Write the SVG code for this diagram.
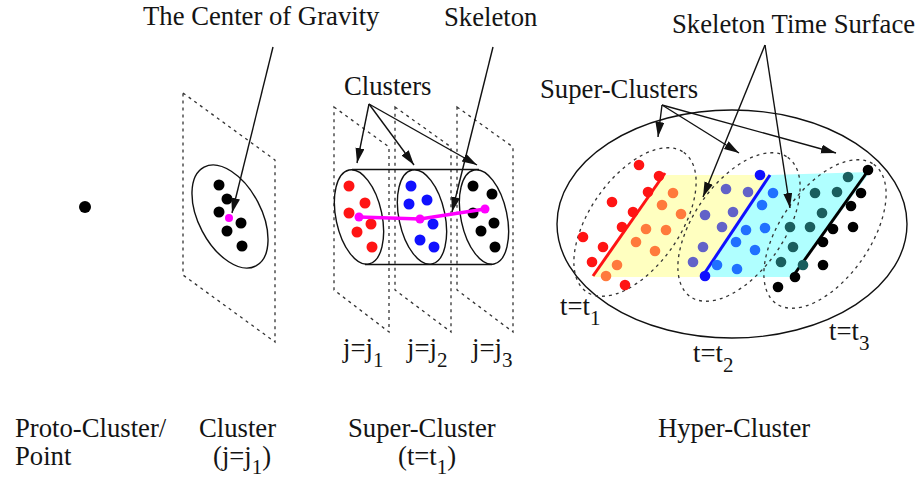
<svg xmlns="http://www.w3.org/2000/svg" width="921" height="479" viewBox="0 0 921 479">
<defs>
<style>
text{font-family:"Liberation Serif","Times New Roman",serif;font-size:26.7px;fill:#141414}
.sub{font-size:21px}
.dash{fill:none;stroke:#333;stroke-width:1.3;stroke-dasharray:3 4}
.ln{fill:none;stroke:#111;stroke-width:1.4}
.arr{fill:none;stroke:#111;stroke-width:1.4;marker-end:url(#ah)}
.k{fill:#000}.r{fill:#ff1414}.b{fill:#1010ff}.o{fill:#ff7a3c}.p{fill:#6262c8}.bb{fill:#2070ff}.t{fill:#1a5e5e}.m{fill:#ff00ff}
</style>
<marker id="ah" markerUnits="userSpaceOnUse" markerWidth="16" markerHeight="10" refX="15" refY="4.5" orient="auto">
<path d="M0,0 L15,4.5 L0,9 z" fill="#111"/>
</marker>
</defs>
<rect width="921" height="479" fill="#fff"/>

<g id="proto-cluster">
<circle cx="85" cy="207" r="6" class="k"/>
<text x="15" y="437">Proto-Cluster/</text>
<text x="15" y="465">Point</text>
</g>

<g id="cluster">
<path class="dash" d="M183,93 L275,160 L275,342 L183,275 Z"/>
<ellipse cx="230" cy="216.5" rx="31.4" ry="55.8" transform="rotate(-27.7 230 216.5)" class="ln"/>
<circle cx="219" cy="185" r="5.5" class="k"/>
<circle cx="227" cy="199" r="5.5" class="k"/>
<circle cx="219" cy="212" r="5.5" class="k"/>
<circle cx="241" cy="223" r="5.5" class="k"/>
<circle cx="227" cy="231" r="5.5" class="k"/>
<circle cx="242" cy="246" r="5.5" class="k"/>
<circle cx="229" cy="218" r="4" class="m"/>
<text x="199" y="437">Cluster</text>
<text x="213" y="465">(j=j<tspan class="sub" dy="9">1</tspan><tspan dy="-9">)</tspan></text>
</g>

<g id="super-cluster">
<path class="dash" d="M334,107 L389,147 L389,332 L334,290 Z"/>
<path class="dash" d="M395,107 L451,147 L451,332 L395,290 Z"/>
<path class="dash" d="M457,107 L513,147 L513,332 L457,290 Z"/>
<ellipse cx="359" cy="217" rx="23" ry="48" transform="rotate(-12 359 217)" class="ln"/>
<ellipse cx="422" cy="217" rx="23" ry="48" transform="rotate(-12 422 217)" class="ln"/>
<ellipse cx="484" cy="217" rx="23" ry="48" transform="rotate(-12 484 217)" class="ln"/>
<line x1="352" y1="169.5" x2="479" y2="169.5" class="ln"/>
<line x1="365" y1="264.5" x2="492" y2="264.5" class="ln"/>
<circle cx="349" cy="186" r="5.5" class="r"/>
<circle cx="365" cy="203" r="5.5" class="r"/>
<circle cx="349" cy="213" r="5.5" class="r"/>
<circle cx="371" cy="224" r="5.5" class="r"/>
<circle cx="357" cy="232" r="5.5" class="r"/>
<circle cx="372" cy="247" r="5.5" class="r"/>
<circle cx="411" cy="186" r="5.5" class="b"/>
<circle cx="427" cy="200" r="5.5" class="b"/>
<circle cx="409" cy="204" r="5.5" class="b"/>
<circle cx="433" cy="224" r="5.5" class="b"/>
<circle cx="420" cy="240" r="5.5" class="b"/>
<circle cx="434" cy="247" r="5.5" class="b"/>
<circle cx="473" cy="186" r="5.5" class="k"/>
<circle cx="492" cy="194" r="5.5" class="k"/>
<circle cx="473" cy="213" r="5.5" class="k"/>
<circle cx="494" cy="223" r="5.5" class="k"/>
<circle cx="481" cy="231" r="5.5" class="k"/>
<circle cx="495" cy="247" r="5.5" class="k"/>
<polyline points="359,217 420,219 485,209" fill="none" stroke="#ff00ff" stroke-width="3.5"/>
<circle cx="359" cy="217" r="4.5" class="m"/>
<circle cx="420" cy="219" r="4.5" class="m"/>
<circle cx="485" cy="209" r="4.5" class="m"/>
<text x="343" y="357">j=j<tspan class="sub" dy="10">1</tspan></text>
<text x="407" y="357">j=j<tspan class="sub" dy="10">2</tspan></text>
<text x="472" y="357">j=j<tspan class="sub" dy="10">3</tspan></text>
<text x="348" y="437">Super-Cluster</text>
<text x="398" y="465">(t=t<tspan class="sub" dy="9">1</tspan><tspan dy="-9">)</tspan></text>
</g>

<g id="hyper-cluster">
<ellipse cx="732" cy="224" rx="175" ry="114" class="ln"/>
<path d="M593,277 L665,175 L770,175 L702,277 Z" fill="#ffffc0"/>
<path d="M702,277 L770,175 L870,172 L793,277 Z" fill="#b0ffff"/>
<ellipse cx="635" cy="222" rx="85" ry="45" transform="rotate(-55 635 222)" class="dash"/>
<ellipse cx="739" cy="227" rx="85" ry="45" transform="rotate(-55 739 227)" class="dash"/>
<ellipse cx="825" cy="234" rx="85" ry="45" transform="rotate(-55 825 234)" class="dash"/>
<line x1="593" y1="276" x2="665" y2="173" stroke="#ff1414" stroke-width="3"/>
<line x1="702" y1="277" x2="770" y2="175" stroke="#1010ff" stroke-width="3"/>
<line x1="791" y1="279" x2="870" y2="168" stroke="#000" stroke-width="3"/>
<circle cx="639" cy="165" r="5.3" class="r"/>
<circle cx="659" cy="176" r="5.3" class="r"/>
<circle cx="648" cy="192" r="5.3" class="r"/>
<circle cx="612" cy="202" r="5.3" class="r"/>
<circle cx="633" cy="212" r="5.3" class="r"/>
<circle cx="622" cy="227" r="5.3" class="r"/>
<circle cx="583" cy="237" r="5.3" class="r"/>
<circle cx="603" cy="247" r="5.3" class="r"/>
<circle cx="592" cy="262" r="5.3" class="r"/>
<circle cx="625" cy="285" r="5.3" class="r"/>
<circle cx="673" cy="193" r="5.3" class="o"/>
<circle cx="662" cy="205" r="5.3" class="o"/>
<circle cx="681" cy="214" r="5.3" class="o"/>
<circle cx="646" cy="229" r="5.3" class="o"/>
<circle cx="666" cy="230" r="5.3" class="o"/>
<circle cx="636" cy="242" r="5.3" class="o"/>
<circle cx="655" cy="251" r="5.3" class="o"/>
<circle cx="617" cy="265" r="5.3" class="o"/>
<circle cx="606" cy="276" r="5.3" class="o"/>
<circle cx="726" cy="189" r="5.3" class="p"/>
<circle cx="748" cy="192" r="5.3" class="p"/>
<circle cx="705" cy="215" r="5.3" class="p"/>
<circle cx="733" cy="212" r="5.3" class="p"/>
<circle cx="722" cy="227" r="5.3" class="p"/>
<circle cx="703" cy="247" r="5.3" class="p"/>
<circle cx="693" cy="262" r="5.3" class="p"/>
<circle cx="760" cy="175" r="5.3" class="b"/>
<circle cx="705" cy="276" r="5.3" class="b"/>
<circle cx="773" cy="193" r="5.3" class="bb"/>
<circle cx="762" cy="205" r="5.3" class="bb"/>
<circle cx="746" cy="230" r="5.3" class="bb"/>
<circle cx="765" cy="228" r="5.3" class="bb"/>
<circle cx="736" cy="242" r="5.3" class="bb"/>
<circle cx="755" cy="250" r="5.3" class="bb"/>
<circle cx="717" cy="265" r="5.3" class="bb"/>
<circle cx="737" cy="269" r="5.3" class="bb"/>
<circle cx="848" cy="177" r="5.3" class="t"/>
<circle cx="815" cy="193" r="5.3" class="t"/>
<circle cx="837" cy="192" r="5.3" class="t"/>
<circle cx="822" cy="213" r="5.3" class="t"/>
<circle cx="790" cy="227" r="5.3" class="t"/>
<circle cx="810" cy="227" r="5.3" class="t"/>
<circle cx="793" cy="247" r="5.3" class="t"/>
<circle cx="781" cy="262" r="5.3" class="t"/>
<circle cx="803" cy="265" r="5.3" class="t"/>
<circle cx="868" cy="170" r="5.3" class="k"/>
<circle cx="861" cy="193" r="5.3" class="k"/>
<circle cx="851" cy="206" r="5.3" class="k"/>
<circle cx="853" cy="227" r="5.3" class="k"/>
<circle cx="833" cy="229" r="5.3" class="k"/>
<circle cx="823" cy="242" r="5.3" class="k"/>
<circle cx="823" cy="265" r="5.3" class="k"/>
<circle cx="795" cy="277" r="5.3" class="k"/>
<circle cx="778" cy="287" r="5.3" class="k"/>
<text x="560" y="315">t=t<tspan class="sub" dy="10">1</tspan></text>
<text x="693" y="362">t=t<tspan class="sub" dy="10">2</tspan></text>
<text x="829" y="340">t=t<tspan class="sub" dy="10">3</tspan></text>
<text x="658" y="437">Hyper-Cluster</text>
</g>

<g id="labels">
<text x="143" y="25">The Center of Gravity</text>
<text x="444" y="26">Skeleton</text>
<text x="344" y="95">Clusters</text>
<text x="540" y="98">Super-Clusters</text>
<text x="672" y="33">Skeleton Time Surface</text>
</g>

<g id="connectors">
<line x1="273" y1="47" x2="232" y2="213" class="arr"/>
<line x1="493" y1="47" x2="452" y2="212" class="arr"/>
<line x1="369" y1="104" x2="357" y2="163" class="arr"/>
<line x1="369" y1="104" x2="414" y2="165" class="arr"/>
<line x1="369" y1="104" x2="477" y2="165" class="arr"/>
<line x1="662" y1="105" x2="658" y2="137" class="arr"/>
<line x1="662" y1="105" x2="739" y2="153" class="arr"/>
<line x1="662" y1="105" x2="836" y2="153" class="arr"/>
<line x1="765" y1="45" x2="703" y2="197" class="arr"/>
<line x1="765" y1="45" x2="790" y2="208" class="arr"/>
</g>
</svg>
